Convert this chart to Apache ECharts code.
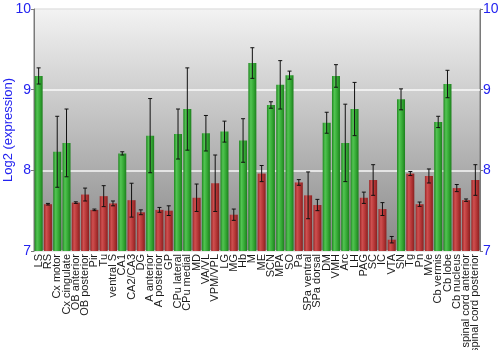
<!DOCTYPE html>
<html>
<head>
<meta charset="utf-8">
<script src="https://cdn.jsdelivr.net/npm/echarts@6/dist/echarts.min.js"></script>
<style>
  html, body { margin: 0; padding: 0; background: #fff; }
  #chart { width: 500px; height: 350px; }
</style>
</head>
<body>
<div id="chart"></div>
<script>
// Brain regions along the x axis
const regions = [
  'LS', 'RS', 'Cx motor', 'Cx cingulate', 'OB anterior', 'OB posterior', 'Pir', 'Tu',
  'ventral S', 'CA1', 'CA2/CA3', 'DG', 'A anterior', 'A posterior', 'GP', 'CPu lateral',
  'CPu medial', 'MD', 'VA/VL', 'VPM/VPL', 'LG', 'MG', 'Hb', 'M',
  'ME', 'SCN', 'MPA', 'SO', 'Pa', 'SPa ventral', 'SPa dorsal', 'DM',
  'VMH', 'Arc', 'LH', 'PAG', 'SC', 'IC', 'VTA', 'SN',
  'Tg', 'Pn', 'MVe', 'Cb vermis', 'Cb lobe', 'Cb nucleus', 'spinal cord anterior', 'spinal cord posterior'
];

// Mean log2 expression per region
const expression = [
  9.17, 7.58, 8.23, 8.34, 7.60, 7.70, 7.51, 7.68,
  7.59, 8.21, 7.63, 7.48, 8.43, 7.51, 7.50, 8.45,
  8.76, 7.66, 8.46, 7.84, 8.48, 7.45, 8.37, 9.33,
  7.96, 8.81, 9.06, 9.18, 7.85, 7.69, 7.57, 8.59,
  9.17, 8.34, 8.76, 7.66, 7.88, 7.52, 7.14, 8.88,
  7.96, 7.58, 7.93, 8.60, 9.07, 7.78, 7.63, 7.88
];

// Half-width of the error bar (standard error) per region
const stdErr = [
  0.10, 0.01, 0.44, 0.42, 0.01, 0.08, 0.01, 0.13,
  0.03, 0.02, 0.21, 0.03, 0.46, 0.03, 0.06, 0.31,
  0.51, 0.17, 0.22, 0.35, 0.13, 0.07, 0.27, 0.19,
  0.10, 0.04, 0.30, 0.05, 0.035, 0.29, 0.07, 0.13,
  0.14, 0.48, 0.33, 0.07, 0.19, 0.08, 0.04, 0.13,
  0.025, 0.027, 0.087, 0.07, 0.17, 0.044, 0.015, 0.19
];

// Tick values shown on both y axes
const yTicks = [7, 8, 9, 10];

// Regions above this level are drawn green, the rest red
const highLevel = 8;

const blue = '#2323f0';

function barFill(high) {
  const stops = high
    ? ['#1f861f', '#52c452', '#35a935', '#1d7f1d']
    : ['#9a2626', '#cf5050', '#b43636', '#8a2020'];
  return new echarts.graphic.LinearGradient(0, 0, 1, 0, [
    { offset: 0, color: stops[0] },
    { offset: 0.3, color: stops[1] },
    { offset: 0.65, color: stops[2] },
    { offset: 1, color: stops[3] }
  ]);
}

const barData = expression.map(v => ({
  value: v,
  itemStyle: { color: barFill(v > highLevel) }
}));

const errData = expression.map((v, i) => [i, v - stdErr[i], v + stdErr[i]]);

const yAxisBase = {
  type: 'value',
  min: yTicks[0],
  max: yTicks[yTicks.length - 1],
  interval: 1,
  axisLine: { show: true, lineStyle: { color: '#7a7a7a', width: 1 } },
  axisTick: { show: true, length: 3, lineStyle: { color: '#7a7a7a' } },
  axisLabel: { color: blue, fontSize: 14, margin: 3, fontFamily: 'Liberation Sans' }
};

const chart = echarts.init(document.getElementById('chart'), null, { renderer: 'canvas' });

chart.setOption({
  animation: false,
  grid: {
    left: 34, right: 20, top: 9, bottom: 99,
    containLabel: false,
    outerBoundsMode: 'none',
    show: true,
    borderColor: '#7a7a7a',
    borderWidth: 1,
    backgroundColor: new echarts.graphic.LinearGradient(0, 0, 0, 1, [
      { offset: 0, color: '#f3f3f3' },
      { offset: 1, color: '#888888' }
    ])
  },
  xAxis: {
    type: 'category',
    data: regions,
    axisLine: { show: false },
    axisTick: { show: false },
    axisLabel: {
      interval: 0,
      rotate: 90,
      fontSize: 11,
      margin: 3,
      color: '#1a1a1a',
      fontFamily: 'Liberation Sans'
    }
  },
  yAxis: [
    Object.assign({}, yAxisBase, {
      position: 'left',
      name: 'Log2 (expression)',
      nameLocation: 'middle',
      nameGap: 19,
      nameMoveOverlap: false,
      nameTextStyle: { color: blue, fontSize: 13, fontFamily: 'Liberation Sans' },
      splitLine: { show: true, lineStyle: { color: '#ffffff', width: 1.5, opacity: 0.9 } }
    }),
    Object.assign({}, yAxisBase, {
      position: 'right',
      splitLine: { show: false }
    })
  ],
  series: [
    {
      type: 'bar',
      data: barData,
      barWidth: 8,
      yAxisIndex: 0
    },
    {
      type: 'custom',
      data: errData,
      yAxisIndex: 0,
      z: 5,
      renderItem: function (params, api) {
        const x = api.value(0);
        const lo = api.coord([x, api.value(1)]);
        const hi = api.coord([x, api.value(2)]);
        const cap = 2;
        const style = { stroke: '#111', lineWidth: 1 };
        return {
          type: 'group',
          children: [
            { type: 'line', shape: { x1: lo[0], y1: lo[1], x2: hi[0], y2: hi[1] }, style: style },
            { type: 'line', shape: { x1: lo[0] - cap, y1: lo[1], x2: lo[0] + cap, y2: lo[1] }, style: style },
            { type: 'line', shape: { x1: hi[0] - cap, y1: hi[1], x2: hi[0] + cap, y2: hi[1] }, style: style }
          ]
        };
      }
    }
  ]
});
</script>
</body>
</html>
